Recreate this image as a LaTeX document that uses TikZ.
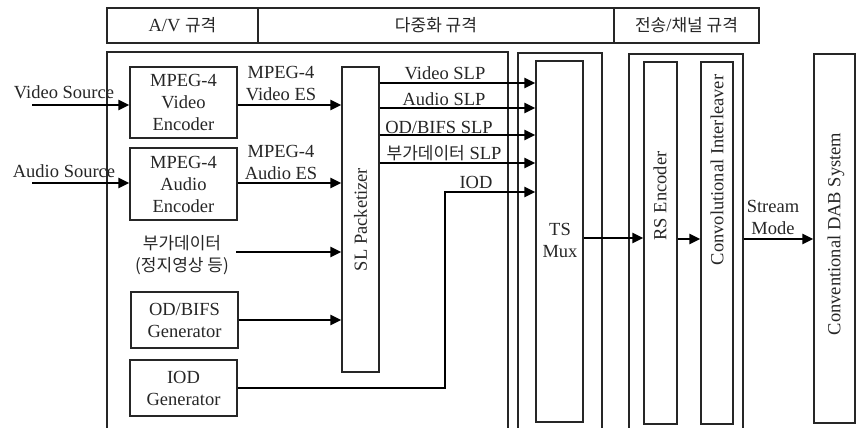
\documentclass[tikz,border=0pt]{standalone}
\usepackage{fontspec}
\setmainfont{Liberation Serif}
\newfontfamily\kr{Noto Sans CJK KR}[Scale=0.92]
\usetikzlibrary{arrows.meta,calc}
\begin{document}
\begin{tikzpicture}[x=1pt,y=-1pt,
  font=\fontsize{18.5}{22}\selectfont,
  box/.style={draw=black!85, line width=1.2pt, inner sep=0pt, align=center, text=black!85},
  hdr/.style={draw=black!85, line width=1.6pt, inner sep=0pt, text=black!85},
  arr/.style={line width=2.4pt, -{Triangle[length=11pt,width=10pt]}},
  lbl/.style={align=center, inner sep=0pt, text=black!85}]
\clip (0,0) rectangle (856,428);
% header
\node[hdr, minimum width=151pt, minimum height=35pt] (h1) at (182.5,25.5) {A/V {\kr 규격}};
\node[hdr, minimum width=356pt, minimum height=35pt] (h2) at (436,25.5) {\kr 다중화 규격};
\node[hdr, minimum width=145pt, minimum height=35pt] (h3) at (686.5,25.5) {{\kr 전송}/{\kr 채널 규격}};
% containers
\node[box, minimum width=401pt, minimum height=398pt] (avbox) at (307.5,251) {};
\node[box, minimum width=84pt, minimum height=397pt] (tsouter) at (560,251.5) {};
\node[box, minimum width=114pt, minimum height=396pt] (trouter) at (686,252) {};
% blocks
\node[box, minimum width=107pt, minimum height=71pt] (venc) at (183.5,102.5) {MPEG-4\\Video\\Encoder};
\node[box, minimum width=107pt, minimum height=72pt] (aenc) at (183.5,184) {MPEG-4\\Audio\\Encoder};
\node[box, minimum width=107pt, minimum height=56pt] (odgen) at (184.5,320) {OD/BIFS\\Generator};
\node[box, minimum width=107pt, minimum height=56pt] (iodgen) at (183.5,388) {IOD\\Generator};
\node[box, minimum width=37pt, minimum height=305pt] (sl) at (360.5,219.5) {};
\node[lbl, rotate=90] (sltext) at (sl) {SL Packetizer};
\node[box, minimum width=47pt, minimum height=361pt] (tsmux) at (559.5,241.5) {};
\node[lbl] (tstext) at (560,240) {TS\\Mux};
\node[box, minimum width=33pt, minimum height=362pt] (rs) at (660.5,243) {};
\node[lbl, rotate=90] (rstext) at (660,196) {RS Encoder};
\node[box, minimum width=32pt, minimum height=362pt] (conv) at (717,243) {};
\node[lbl, rotate=90] (convtext) at (717,170) {Convolutional Interleaver};
\node[box, minimum width=41pt, minimum height=369pt] (dab) at (834.5,238.5) {};
\node[lbl, rotate=90] (dabtext) at (836,234) {Conventional DAB System};
% labels
\node[lbl] (vsrclbl) at (64,92) {Video Source};
\node[lbl] (asrclbl) at (64,171) {Audio Source};
\node[lbl] (vesl) at (281,84) {MPEG-4\\Video ES};
\node[lbl] (aesl) at (281,162) {MPEG-4\\Audio ES};
\node[lbl] (aux) at (182,255) {\kr 부가데이터\\{\kr (정지영상 등)}};
\node[lbl] (l1) at (445,73) {Video SLP};
\node[lbl] (l2) at (444,99) {Audio SLP};
\node[lbl] (l3) at (439,127) {OD/BIFS SLP};
\node[lbl] (l4) at (444,153) {{\kr 부가데이터} SLP};
\node[lbl] (l5) at (476,182) {IOD};
\node[lbl] (smode) at (773,217) {Stream\\Mode};
% coordinates
\coordinate (vsrc) at (32,105);
\coordinate (asrc) at (32,183);
\coordinate (auxs) at (236,252);
\coordinate (iodturn) at (445,192);
% arrows
\draw[arr] (vsrc) -- (vsrc -| venc.west);
\draw[arr] (asrc) -- (asrc -| aenc.west);
\draw[arr] (vsrc -| venc.east) -- (vsrc -| sl.west);
\draw[arr] (asrc -| aenc.east) -- (asrc -| sl.west);
\draw[arr] (auxs) -- (auxs -| sl.west);
\draw[arr] (odgen.east) -- (odgen.east -| sl.west);
\draw[arr] (iodgen.east) -| (iodturn) -- (iodturn -| tsmux.west);
\foreach \yy in {83,108,135,163}
  \draw[arr] (sl.east |- 0,\yy) -- (tsmux.west |- 0,\yy);
\draw[arr] (tsmux.east |- 0,238) -- (rs.west |- 0,238);
\draw[arr] (rs.east |- 0,239) -- (conv.west |- 0,239);
\draw[arr] (trouter.east |- 0,239) -- (dab.west |- 0,239);
\end{tikzpicture}
\end{document}
